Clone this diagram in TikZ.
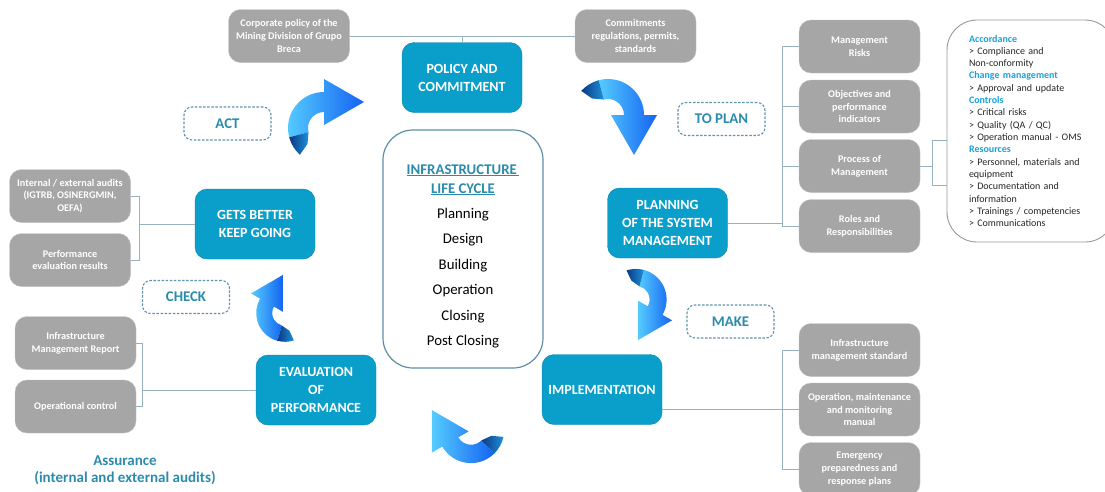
\documentclass[tikz,border=0pt]{standalone}
\usepackage{fontspec}
\setmainfont{Carlito}
\usepackage{tikz}

\definecolor{boxblue}{HTML}{0A9FCB}
\definecolor{boxgray}{HTML}{A6A6A6}
\definecolor{graybord}{HTML}{C2C2C2}
\definecolor{tealtxt}{HTML}{2B8BAD}
\definecolor{dashline}{HTML}{5E93AC}
\definecolor{linkcol}{HTML}{97B1BE}
\definecolor{headcyan}{HTML}{1BA1DA}
\definecolor{cycleline}{HTML}{5C8FA6}
\definecolor{arrowlight}{HTML}{55CCFF}
\definecolor{arrowdeep}{HTML}{1463F2}
\definecolor{taildark}{HTML}{0A3A84}
\definecolor{tailmid}{HTML}{1E90D8}

\tikzstyle{stage}=[rounded corners=12pt,fill=boxblue,draw=boxblue!85!black,text=white,
  font=\fontsize{14}{18}\selectfont\bfseries,align=center,
  minimum width=120pt,minimum height=70pt,inner sep=2pt]
\tikzstyle{item}=[rounded corners=12pt,fill=boxgray,draw=graybord,text=white,
  font=\fontsize{10.2}{12.8}\selectfont\bfseries,align=center,
  minimum width=121pt,minimum height=53pt,inner sep=2pt]
\tikzstyle{phase}=[rounded corners=8pt,draw=dashline,dash pattern=on 2.5pt off 1.6pt,
  line width=1.1pt,text=tealtxt,font=\fontsize{14.8}{16}\selectfont\bfseries,
  minimum width=87pt,minimum height=33pt]
\tikzstyle{lifebox}=[rounded corners=30pt,draw=cycleline,line width=1.2pt,
  minimum width=160pt,minimum height=238pt,align=center,
  font=\fontsize{14.8}{19}\selectfont]
\tikzstyle{notebox}=[rounded corners=30pt,draw=black!40,fill=white,line width=0.9pt,
  minimum width=168pt,minimum height=222pt,text width=124pt,align=left,
  font=\fontsize{10}{12.33}\selectfont,text=black!85]
\tikzstyle{link}=[draw=linkcol,line width=0.9pt]

% curved ribbon arrow, drawn pointing right; rotate it into place
\tikzset{
  cyclearrow/.pic={
    \begin{scope}[y=1pt]
      \shade[left color=arrowlight,right color=arrowdeep]
        (195:36) arc[start angle=195,end angle=90,radius=36]
        -- (0,49) -- (40,26) -- (0,3) -- (0,16)
        arc[start angle=90,end angle=195,radius=16] -- cycle;
      \shade[left color=taildark,right color=tailmid]
        (195:36) arc[start angle=195,end angle=228,radius=36]
        -- (224:23) -- (195:16) -- cycle;
    \end{scope}
  }
}

\newcommand{\notehead}[1]{{\color{headcyan}\bfseries #1}}
\newcommand{\lifehead}[1]{{\color{tealtxt}\bfseries\underline{#1}}}

\begin{document}
\begin{tikzpicture}[x=1pt,y=-1pt]
\useasboundingbox (0,0) rectangle (1105,491);

% stages of the cycle
\node[stage] (policy) at (462,77.5) {POLICY AND\\COMMITMENT};
\node[stage] (planning) at (667.5,223) {PLANNING\\OF THE SYSTEM\\MANAGEMENT};
\node[stage] (implementation) at (602,389.5) {IMPLEMENTATION};
\node[stage] (evaluation) at (316,390) {EVALUATION\\OF\\PERFORMANCE};
\node[stage] (better) at (255,224) {GETS BETTER\\KEEP GOING};

% centre
\node[lifebox] (lifecycle) at (463,249) {%
  \rule{0pt}{24pt}\lifehead{INFRASTRUCTURE\,}\\\lifehead{LIFE CYCLE}\\[6.4pt]
  Planning\\[6.4pt]Design\\[6.4pt]Building\\[6.4pt]Operation\\[6.4pt]Closing\\[6.4pt]Post Closing};

% PDCA labels
\node[phase] (act) at (227.5,123.5) {ACT};
\node[phase] (toplan) at (721.5,119) {TO PLAN};
\node[phase] (check) at (186,297) {CHECK};
\node[phase] (make) at (730.5,321.5) {MAKE};

% supporting items
\node[item] (corp) at (289,36) {Corporate policy of the\\Mining Division of Grupo\\Breca};
\node[item] (commit) at (635.5,36) {Commitments\\regulations, permits,\\standards};
\node[item] (risks) at (859.5,46.5) {Management\\Risks};
\node[item] (objectives) at (859.5,106.5) {Objectives and\\performance\\indicators};
\node[item] (process) at (859.5,166) {Process of\\Management};
\node[item] (roles) at (859.5,226) {Roles and\\Responsibilities};
\node[item] (audits) at (70,196) {Internal / external audits\\(IGTRB, OSINERGMIN,\\OEFA)};
\node[item] (results) at (70,260) {Performance\\evaluation results};
\node[item] (report) at (75.5,343) {Infrastructure\\Management Report};
\node[item] (control) at (75.5,406.5) {Operational control};
\node[item] (standard) at (859.5,350) {Infrastructure\\management standard};
\node[item] (manual) at (859.5,409.5) {Operation, maintenance\\and monitoring\\manual};
\node[item] (emergency) at (859.5,469) {Emergency\\preparedness and\\response plans};

\node[notebox] (notes) at (1031,131) {%
  \notehead{Accordance}\\> Compliance and\\Non-conformity\\
  \notehead{Change management}\\> Approval and update\\
  \notehead{Controls}\\> Critical risks\\> Quality (QA / QC)\\> Operation manual - OMS\\
  \notehead{Resources}\\> Personnel, materials and\\equipment\\> Documentation and\\information\\
  > Trainings / competencies\\> Communications};

\node[text=tealtxt,font=\fontsize{15}{17}\selectfont\bfseries,align=center]
  (assurance) at (125,470) {Assurance\\(internal and external audits)};

% connectors
\draw[link] (corp.east) -- (commit.west);
\draw[link] (policy.north) -- (policy.north |- corp.east);

\draw[link] (planning.east) -- ++(55,0) coordinate (rb);
\draw[link] (risks.west) -| (rb) |- (roles.west);
\draw[link] (objectives.west) -- (objectives.west -| rb);
\draw[link] (process.west) -- (process.west -| rb);

\draw[link] (process.east) -- ++(12,0) coordinate (pb);
\draw[link] (notes.west |- 0,140) -| (pb) |- (notes.west |- 0,185);

\draw[link] (better.west) -- ++(-55,0) coordinate (lb);
\draw[link] (audits.east) -| (lb) |- (results.east);

\draw[link] (evaluation.west) -- ++(-113,0) coordinate (eb);
\draw[link] (report.east) -| (eb) |- (control.east);

\draw[link] (implementation.east |- manual.west) -- (manual.west);
\draw[link] (standard.west) -- ++(-16,0) |- (emergency.west);

% cycle arrows
\pic[rotate=0] at (324,128) {cyclearrow};
\pic[rotate=-90] at (608,115) {cyclearrow};
\pic[rotate=-120,scale=0.85] at (636,299.5) {cyclearrow};
\pic[rotate=120,scale=0.92] at (471,430) {cyclearrow};
\pic[rotate=60,scale=0.8] at (285,313) {cyclearrow};
\end{tikzpicture}
\end{document}
